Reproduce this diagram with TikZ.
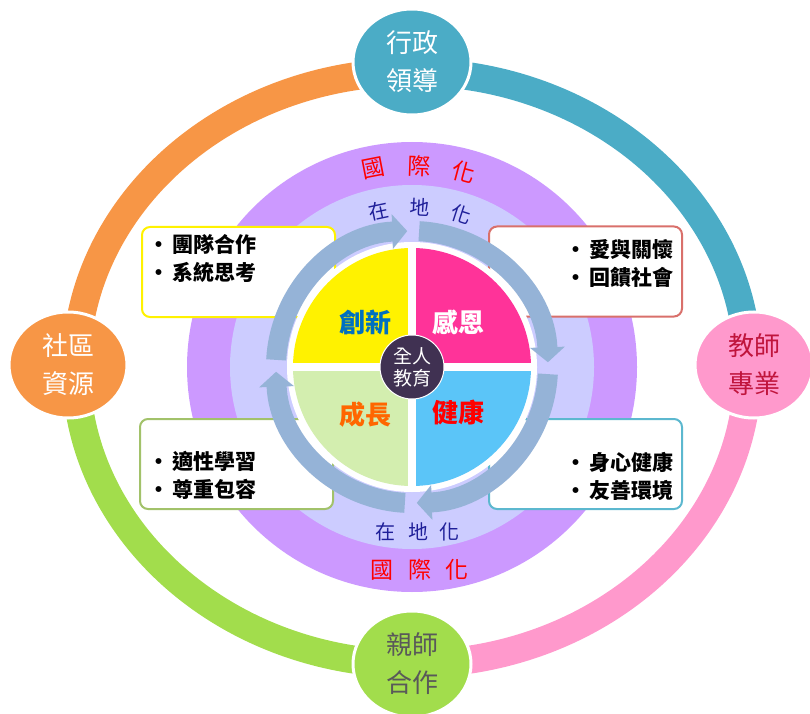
\documentclass[tikz,border=0pt]{standalone}
\usepackage{fontspec}
\newfontfamily\cjk{Noto Sans CJK TC}
\usepackage{tikz}
\usetikzlibrary{shapes.geometric, calc, arrows.meta}

\definecolor{tealc}{HTML}{4BACC6}
\definecolor{pinkc}{HTML}{FF99CC}
\definecolor{limec}{HTML}{A2DD4C}
\definecolor{orangec}{HTML}{F79646}
\definecolor{purplec}{HTML}{CC99FF}
\definecolor{lavenderc}{HTML}{CCCCFF}
\definecolor{arrowc}{HTML}{95B3D7}
\definecolor{corec}{HTML}{403152}
\definecolor{navyc}{HTML}{1F1F99}
\definecolor{redtext}{HTML}{C0143C}
\definecolor{greytext}{HTML}{595959}
\definecolor{boxred}{HTML}{D9706B}
\definecolor{boxgreen}{HTML}{A2C26A}
\definecolor{boxteal}{HTML}{5CB8CF}
\definecolor{magentac}{HTML}{FF3399}
\definecolor{skyc}{HTML}{5BC5F8}
\definecolor{mintc}{HTML}{D3EEAF}
\definecolor{innovc}{HTML}{0070C0}
\definecolor{growc}{HTML}{FF6600}

\tikzset{outerarc/.style = {line width = 28pt}}
\tikzset{hub/.style = {ellipse, fill = #1, draw = white, line width = 3pt, minimum width = 118pt, minimum height = 106pt, inner sep = 0, align = center, font = \cjk\fontsize{26}{38}\selectfont}}
\tikzset{infobox/.style = {draw = #1, line width = 2pt, fill = white, rounded corners = 8pt, minimum width = 193pt, minimum height = 90pt}}
\tikzset{boxtext/.style = {inner sep = 0, font = \cjk\bfseries\fontsize{21}{28}\selectfont}}
\tikzset{globaltext/.style = {text = red, inner sep = 0, font = \cjk\fontsize{23}{24}\selectfont}}
\tikzset{localtext/.style = {text = navyc, inner sep = 0, font = \cjk\fontsize{20}{22}\selectfont}}
\tikzset{ringarrow/.style = {draw = arrowc, line width = 20pt, -{Triangle[width = 34pt, length = 15pt]}}}
\tikzset{pielabel/.style = {inner sep = 0, font = \cjk\bfseries\fontsize{26}{28}\selectfont}}

\begin{document}
\begin{tikzpicture}[x = 1pt, y = 1pt]
    \useasboundingbox (0, 0) rectangle (810, 713);
    \coordinate (E) at (412, 345);
    \coordinate (C) at (412, 346);

    % outer ring
    \draw [outerarc, tealc] ($(E) + (90:336pt and 296pt)$) arc [start angle = 90, end angle = 0, x radius = 336pt, y radius = 296pt];
    \draw [outerarc, pinkc] ($(E) + (0:336pt and 296pt)$) arc [start angle = 0, end angle = -90, x radius = 336pt, y radius = 296pt];
    \draw [outerarc, limec] ($(E) + (-90:336pt and 296pt)$) arc [start angle = -90, end angle = -180, x radius = 336pt, y radius = 296pt];
    \draw [outerarc, orangec] ($(E) + (180:336pt and 296pt)$) arc [start angle = 180, end angle = 90, x radius = 336pt, y radius = 296pt];

    \node [hub = tealc, text = white] (admin) at (412, 651) {行政\\領導};
    \node [hub = pinkc, text = redtext] (teacher) at (754, 348) {教師\\專業};
    \node [hub = limec, text = greytext] (parent) at (412, 49) {親師\\合作};
    \node [hub = orangec, text = white] (community) at (68, 348) {社區\\資源};

    % bands
    \fill [purplec] (C) circle (225pt);
    \fill [lavenderc] (C) circle (182pt);

    \node [globaltext, rotate = 11] (gtop1) at ($(C) + (101:202pt)$) {國};
    \node [globaltext, rotate = -2] (gtop2) at ($(C) + (88:201pt)$) {際};
    \node [globaltext, rotate = -15] (gtop3) at ($(C) + (75:202pt)$) {化};
    \node [localtext, rotate = 12] (ltop1) at ($(C) + (102:160pt)$) {在};
    \node [localtext, rotate = -3] (ltop2) at ($(C) + (87:160pt)$) {地};
    \node [localtext, rotate = -18] (ltop3) at ($(C) + (72:160pt)$) {化};

    \node [localtext] (lbot1) at (385, 181) {在};
    \node [localtext] (lbot2) at (418, 181) {地};
    \node [localtext] (lbot3) at (449, 181) {化};
    \node [globaltext] (gbot1) at (382, 143) {國};
    \node [globaltext] (gbot2) at (420, 143) {際};
    \node [globaltext] (gbot3) at (457, 143) {化};

    % boxes
    \node [infobox = yellow] (tlbox) at (238.5, 441) {};
    \node [infobox = boxred] (trbox) at (585.5, 441.5) {};
    \node [infobox = boxgreen] (blbox) at (236.5, 249) {};
    \node [infobox = boxteal] (brbox) at (585.5, 249) {};

    \node [boxtext, anchor = west, align = left] (tltext) at (148, 454) {•\hspace{3pt}團隊合作\\•\hspace{3pt}系統思考};
    \node [boxtext, anchor = east, align = right] (trtext) at (674, 449.5) {•\hspace{3pt}愛與關懷\\•\hspace{3pt}回饋社會};
    \node [boxtext, anchor = west, align = left] (bltext) at (148, 238) {•\hspace{3pt}適性學習\\•\hspace{3pt}尊重包容};
    \node [boxtext, anchor = east, align = right] (brtext) at (674, 237) {•\hspace{3pt}身心健康\\•\hspace{3pt}友善環境};

    % pie
    \fill [white] (C) circle (125pt);
    \fill [yellow] (C) -- ++(90:119pt) arc [start angle = 90, end angle = 180, radius = 119pt] -- cycle;
    \fill [magentac] (C) -- ++(0:119pt) arc [start angle = 0, end angle = 90, radius = 119pt] -- cycle;
    \fill [skyc] (C) -- ++(-90:119pt) arc [start angle = -90, end angle = 0, radius = 119pt] -- cycle;
    \fill [mintc] (C) -- ++(180:119pt) arc [start angle = 180, end angle = 270, radius = 119pt] -- cycle;
    \draw [white, line width = 8pt] ($(C) + (0, 125)$) -- ($(C) + (0, -125)$);
    \draw [white, line width = 8pt] ($(C) + (-125, 0)$) -- ($(C) + (125, 0)$);

    \draw [ringarrow] ($(C) + (87:136pt)$) arc [start angle = 87, end angle = 2, radius = 136pt];
    \draw [ringarrow] ($(C) + (-3:136pt)$) arc [start angle = -3, end angle = -88, radius = 136pt];
    \draw [ringarrow] ($(C) + (-93:136pt)$) arc [start angle = -93, end angle = -178, radius = 136pt];
    \draw [ringarrow] ($(C) + (177:136pt)$) arc [start angle = 177, end angle = 92, radius = 136pt];

    \node [pielabel, text = innovc] (innov) at (365, 391) {創新};
    \node [pielabel, text = white] (thanks) at (458, 391) {感恩};
    \node [pielabel, text = growc] (growth) at (365, 298) {成長};
    \node [pielabel, text = red] (health) at (458, 300) {健康};

    \node [circle, fill = corec, draw = white, line width = 1pt, minimum size = 64pt, inner sep = 0, text = white, align = center, font = \cjk\fontsize{19}{22}\selectfont] (core) at (C) {全人\\教育};
\end{tikzpicture}
\end{document}
